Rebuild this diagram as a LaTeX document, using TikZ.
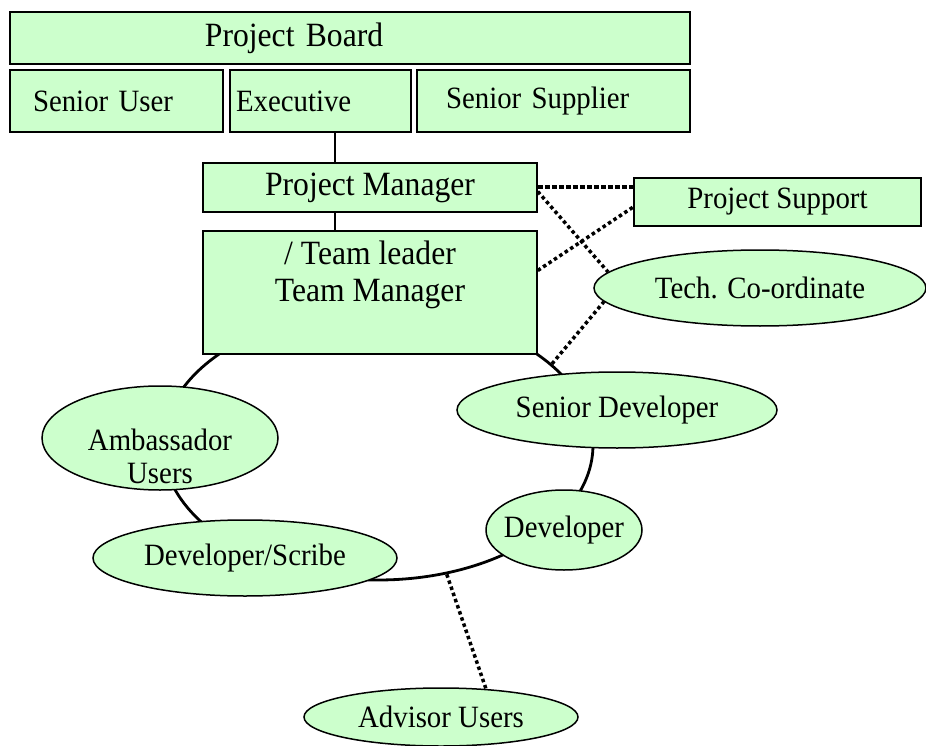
\documentclass[tikz,border=0pt]{standalone}
\usepackage{fontspec}
\setmainfont{Liberation Serif}[FakeStretch=0.93]
\usetikzlibrary{shapes.geometric}
\definecolor{pale}{HTML}{CCFFCC}
\tikzset{
 box/.style={draw=black, line width=1.5pt, fill=pale, rectangle, inner sep=0pt},
 oval/.style={draw=black, line width=1.5pt, fill=pale, ellipse, inner sep=0pt},
 big/.style={font=\fontsize{34}{37}\selectfont},
 norm/.style={font=\fontsize{31}{33}\selectfont},
 link/.style={line width=1.5pt},
 dots/.style={line width=3.5pt, dash pattern=on 3.5pt off 3pt},
 heavydots/.style={line width=4pt, dash pattern=on 5pt off 2pt},
}
\begin{document}
\begin{tikzpicture}[x=1pt,y=-1pt]
\useasboundingbox (0,0) rectangle (926,746);
% ring
\node[oval, fill=none, line width=2.8pt, minimum width=430pt, minimum height=270pt] (ring) at (378,445) {};
% top boxes
\node[box, big, align=left, text width=680pt, minimum height=52pt] (board) at (350,38) {\hspace*{195pt}Project Board};
\node[box, norm, align=left, text width=213pt, minimum height=62pt] (suser) at (116.5,101) {\hspace*{23pt}Senior User};
\node[box, norm, align=left, text width=181pt, minimum height=62pt] (exec) at (320.5,101) {\hspace*{6pt}Executive};
\node[box, norm, align=left, text width=273pt, minimum height=62pt] (ssup) at (553.5,101) {\hspace*{29pt}Senior Supplier};
\node[box, big, minimum width=334pt, minimum height=49pt] (pm) at (370,187.5) {Project Manager};
\node[box, minimum width=334pt, minimum height=123pt,
  label={[big, align=center, yshift=18pt]center:/ Team leader\\Team Manager}] (team) at (370,292.5) {};
\node[box, norm, minimum width=287pt, minimum height=48pt] (ps) at (777.5,202) {Project Support};
% ellipses
\node[oval, minimum width=332pt, minimum height=76pt, label={[norm]center:Tech. Co-ordinate}] (tech) at (760,288) {};
\node[oval, minimum width=236pt, minimum height=104pt,
  label={[norm, align=center, yshift=-18pt]center:Ambassador\\Users}] (amb) at (160,438) {};
\node[oval, minimum width=304pt, minimum height=76pt, label={[norm]center:Developer/Scribe}] (dscribe) at (245,558) {};
\node[oval, minimum width=320pt, minimum height=76pt, label={[norm]center:Senior Developer}] (sdev) at (617,410) {};
\node[oval, minimum width=156pt, minimum height=80pt, label={[norm]center:Developer}] (dev) at (564,530) {};
\node[oval, minimum width=274pt, minimum height=58pt, label={[norm]center:Advisor Users}] (adv) at (441,717) {};
% solid connectors
\draw[link] ([xshift=14.5pt]exec.south) -- ([xshift=14.5pt]exec.south |- pm.north);
\draw[link] ([xshift=-35pt]pm.south) -- ([xshift=-35pt]pm.south |- team.north);
% dotted connectors
\draw[heavydots] (pm.east) -- (pm.east -| ps.west);
\draw[dots] ([yshift=-4pt]pm.east) -- (tech.174);
\draw[dots] ([yshift=22pt]team.east) -- ([yshift=-5pt]ps.west);
\draw[dots] (ring.25) -- (tech.185);
\draw[dots] (ring.-62) -- (adv.32);
\end{tikzpicture}
\end{document}
